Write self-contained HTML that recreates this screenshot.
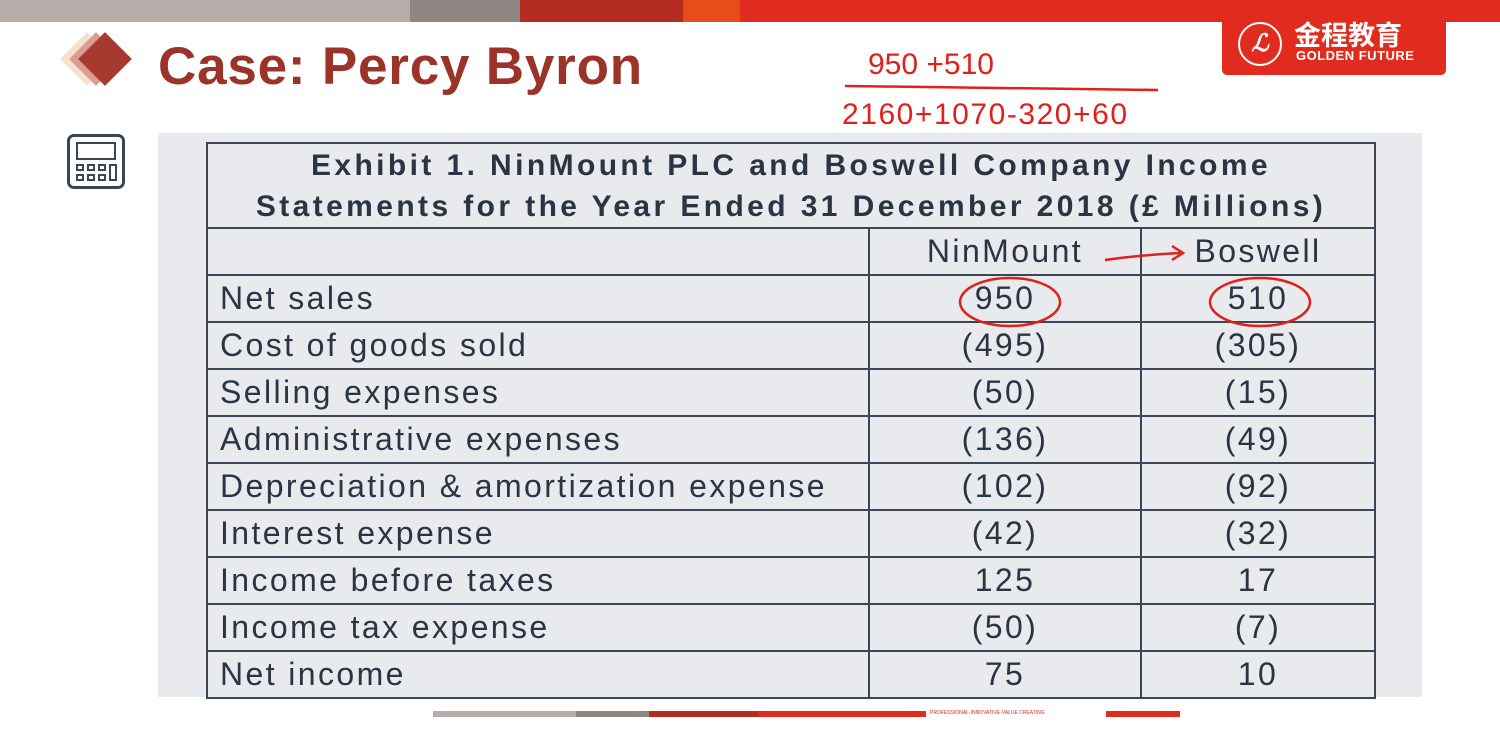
<!DOCTYPE html>
<html><head><meta charset="utf-8"><style>
body{margin:0;width:1500px;height:750px;background:#fff;position:relative;overflow:hidden;font-family:"Liberation Sans","Noto Sans CJK SC",sans-serif}
.a{position:absolute}
td{border:2px solid #3a4656;font-size:32px;letter-spacing:2.4px;color:#2a3442;height:47px;padding:0 0 0 12px;white-space:nowrap;box-sizing:border-box}
td.n{text-align:center;padding:0}
table{border-collapse:collapse;position:absolute;left:206px;top:142px;width:1170px}
</style></head><body>
<div class="a" style="left:0;top:0;width:410px;height:22px;background:#b5ada9"></div>
<div class="a" style="left:410px;top:0;width:110px;height:22px;background:#8f8683"></div>
<div class="a" style="left:520px;top:0;width:163px;height:22px;background:#b42b20"></div>
<div class="a" style="left:683px;top:0;width:57px;height:22px;background:#e64d19"></div>
<div class="a" style="left:740px;top:0;width:760px;height:22px;background:#e02b1e"></div>
<div class="a" style="left:1222px;top:20px;width:224px;height:55px;background:#e02b1e;border-radius:0 0 5px 5px"></div>
<div class="a" style="left:1238px;top:22px;width:44px;height:44px;border-radius:50%;border:2px solid #fff;box-sizing:border-box;color:#fff;font:italic bold 24px 'Liberation Serif',serif;text-align:center;line-height:40px">ℒ</div>
<div class="a" style="left:1294px;top:16px;color:#fff;font-size:27px;line-height:36px;font-weight:bold;font-family:'Noto Sans CJK SC',sans-serif">金程教育</div>
<div class="a" style="left:1296px;top:48px;color:#fff;font-size:13px;font-weight:bold;letter-spacing:0.5px">GOLDEN FUTURE</div>
<div class="a" style="left:68px;top:40px;width:38px;height:38px;background:#f3e3cc;transform:rotate(45deg)"></div>
<div class="a" style="left:77px;top:40px;width:38px;height:38px;background:#dd9c92;transform:rotate(45deg)"></div>
<div class="a" style="left:86px;top:40px;width:38px;height:38px;background:#a63a2e;transform:rotate(45deg)"></div>
<div class="a" style="left:158px;top:36px;color:#9b3328;font-size:53px;font-weight:bold;letter-spacing:0.8px">Case: Percy Byron</div>
<svg class="a" style="left:840px;top:40px" width="320" height="90"><g fill="none" stroke="#e0201a" stroke-width="2.5">
<path d="M5 46 L318 50"/></g>
<text x="28" y="34" fill="#e0201a" font-size="30" font-family="Liberation Sans">950 +510</text>
<text x="2" y="84" fill="#e0201a" font-size="30" font-family="Liberation Sans" textLength="285">2160+1070-320+60</text></svg>
<div class="a" style="left:67px;top:134px;width:58px;height:55px;border:3px solid #3a4656;border-radius:7px;box-sizing:border-box">
<div class="a" style="left:6px;top:5px;width:40px;height:18px;border:2px solid #3a4656;box-sizing:border-box"></div>
<div class="a" style="left:6px;top:27px;width:8px;height:7px;border:2px solid #3a4656;box-sizing:border-box"></div>
<div class="a" style="left:17px;top:27px;width:8px;height:7px;border:2px solid #3a4656;box-sizing:border-box"></div>
<div class="a" style="left:28px;top:27px;width:8px;height:7px;border:2px solid #3a4656;box-sizing:border-box"></div>
<div class="a" style="left:6px;top:37px;width:8px;height:7px;border:2px solid #3a4656;box-sizing:border-box"></div>
<div class="a" style="left:17px;top:37px;width:8px;height:7px;border:2px solid #3a4656;box-sizing:border-box"></div>
<div class="a" style="left:28px;top:37px;width:8px;height:7px;border:2px solid #3a4656;box-sizing:border-box"></div>
<div class="a" style="left:39px;top:27px;width:8px;height:17px;border:2px solid #3a4656;box-sizing:border-box"></div></div>
<div class="a" style="left:158px;top:133px;width:1264px;height:564px;background:#e8eaee"></div>
<table>
<tr><td colspan="3" class="n" style="height:85px;font-weight:bold;font-size:30px;letter-spacing:3.4px;line-height:41px">Exhibit 1. NinMount PLC and Boswell Company Income<br>Statements for the Year Ended 31 December 2018 (£ Millions)</td></tr>
<tr><td style="width:662px"></td><td class="n" style="width:272px">NinMount</td><td class="n">Boswell</td></tr>
<tr><td>Net sales</td><td class="n">950</td><td class="n">510</td></tr>
<tr><td>Cost of goods sold</td><td class="n">(495)</td><td class="n">(305)</td></tr>
<tr><td>Selling expenses</td><td class="n">(50)</td><td class="n">(15)</td></tr>
<tr><td>Administrative expenses</td><td class="n">(136)</td><td class="n">(49)</td></tr>
<tr><td>Depreciation &amp; amortization expense</td><td class="n">(102)</td><td class="n">(92)</td></tr>
<tr><td>Interest expense</td><td class="n">(42)</td><td class="n">(32)</td></tr>
<tr><td>Income before taxes</td><td class="n">125</td><td class="n">17</td></tr>
<tr><td>Income tax expense</td><td class="n">(50)</td><td class="n">(7)</td></tr>
<tr><td>Net income</td><td class="n">75</td><td class="n">10</td></tr>
</table>
<svg class="a" style="left:0;top:0" width="1500" height="750"><g fill="none" stroke="#e0201a" stroke-width="2.5">
<ellipse cx="1010" cy="302" rx="50" ry="24"/><ellipse cx="1260" cy="302" rx="50" ry="24"/>
<path d="M1105 260 Q1140 255 1180 253 M1172 246 L1183 253 L1172 260"/></g></svg>
<div class="a" style="left:433px;top:711px;width:143px;height:6px;background:#b5ada9"></div>
<div class="a" style="left:576px;top:711px;width:73px;height:6px;background:#8f8683"></div>
<div class="a" style="left:649px;top:711px;width:109px;height:6px;background:#b42b20"></div>
<div class="a" style="left:758px;top:711px;width:168px;height:6px;background:#e02b1e"></div>
<div class="a" style="left:930px;top:710px;font-size:5px;color:#e02b1e">PROFESSIONAL-INNOVATIVE-VALUE CREATING</div>
<div class="a" style="left:1106px;top:711px;width:74px;height:6px;background:#e02b1e"></div>
</body></html>
